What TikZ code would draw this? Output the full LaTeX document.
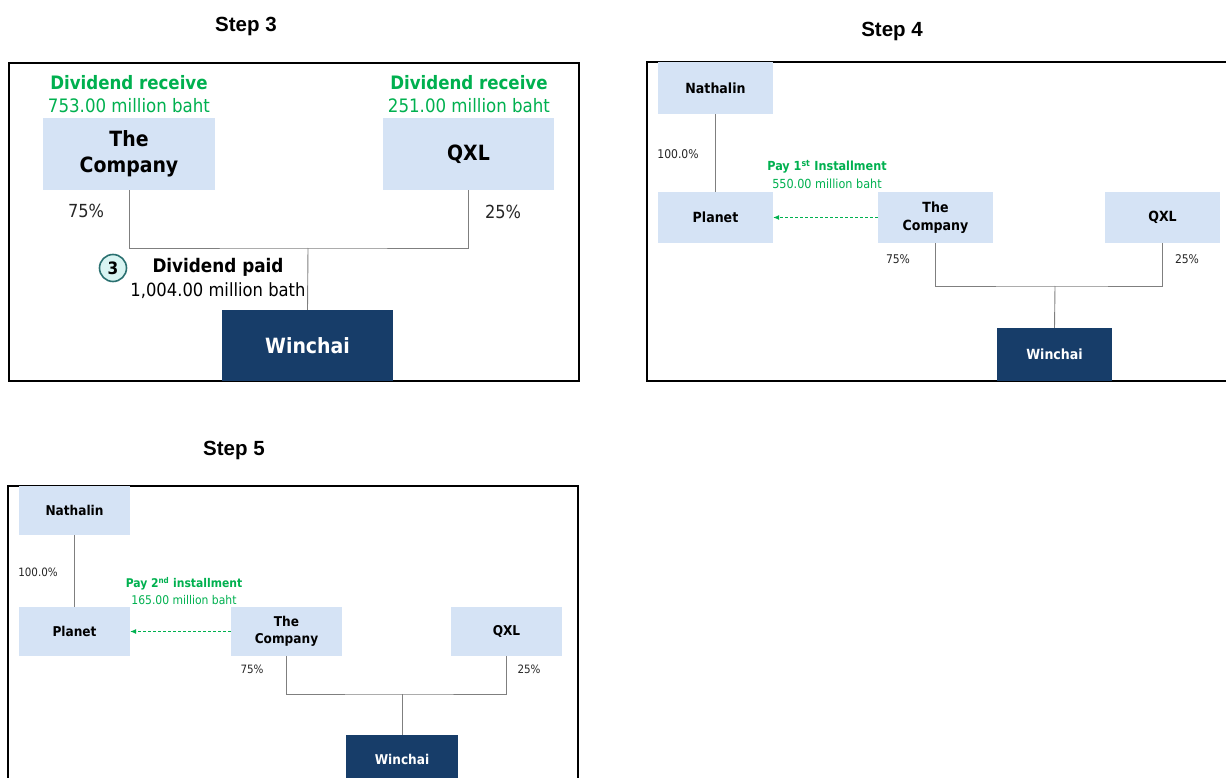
\documentclass[tikz,border=0pt]{standalone}
\usepackage{fontspec}
\setmainfont{Liberation Sans}
\newfontfamily\tah{DejaVu Sans Condensed}
\usetikzlibrary{arrows.meta}
\definecolor{boxblue}{HTML}{D5E3F5}
\definecolor{navy}{HTML}{173D69}
\definecolor{paygreen}{HTML}{00B04F}
\definecolor{linegray}{HTML}{7F7F7F}
\definecolor{circfill}{HTML}{D8F4F2}
\definecolor{circline}{HTML}{2A7070}
\tikzset{
  panel/.style={draw=black, line width=1.5pt},
  entity/.style={fill=boxblue, inner sep=0pt, align=center, font=\tah\bfseries},
  target/.style={fill=navy, text=white, inner sep=0pt, align=center, font=\tah\bfseries},
  own/.style={draw=linegray, line width=0.9pt},
  pct/.style={inner sep=0pt, text=black!85, font=\tah},
  paylabel/.style={inner sep=0pt, align=center, text=paygreen},
  payarrow/.style={draw=paygreen, dashed, dash pattern=on 3pt off 2pt, line width=0.8pt, -{Latex[length=6pt,width=5pt]}},
  steptitle/.style={inner sep=0pt, font=\bfseries\fontsize{20.5}{23}\selectfont}
}
\begin{document}
\begin{tikzpicture}[x=1pt,y=-1pt]
\useasboundingbox (0,0) rectangle (1226,778);

% ---------------- Step 3 ----------------
\node[steptitle] (t3) at (246,26) {Step 3};
\draw[panel] (9,63) rectangle (579,381);
\node[entity, minimum width=172pt, minimum height=72pt, font=\tah\bfseries\fontsize{21}{26}\selectfont] (c3) at (129,154) {The\\Company};
\node[entity, minimum width=171pt, minimum height=72pt, font=\tah\bfseries\fontsize{21}{26}\selectfont] (q3) at (468.5,154) {QXL};
\node[target, minimum width=171pt, minimum height=71pt, font=\tah\bfseries\fontsize{21}{24}\selectfont] (w3) at (307.5,345.5) {Winchai};
\node[paylabel, font=\tah\bfseries\fontsize{18.5}{21}\selectfont] (cr3) at (129,83) {Dividend receive};
\node[paylabel, font=\tah\fontsize{18.5}{21}\selectfont] (cm3) at (129,106) {753.00 million baht};
\node[paylabel, font=\tah\bfseries\fontsize{18.5}{21}\selectfont] (qr3) at (469,83) {Dividend receive};
\node[paylabel, font=\tah\fontsize{18.5}{21}\selectfont] (qm3) at (469,106) {251.00 million baht};
\node[pct, font=\tah\fontsize{18}{21}\selectfont] (p75a) at (86,211) {75\%};
\node[pct, font=\tah\fontsize{18}{21}\selectfont] (p25a) at (503,212) {25\%};
\coordinate (j3) at (308,248);
\draw[own] (c3.south) |- (j3) -| (q3.south);
\draw[own] (j3) -- (w3.north);
\node[circle, draw=circline, fill=circfill, line width=1.6pt, minimum size=27pt, inner sep=0pt, font=\tah\bfseries\fontsize{17}{19}\selectfont] (n3) at (113,268) {3};
\node[inner sep=0pt, font=\tah\bfseries\fontsize{18.7}{21}\selectfont] (dp3) at (218,267) {Dividend paid};
\node[inner sep=0pt, font=\tah\fontsize{18.2}{21}\selectfont] (dm3) at (218,291) {1,004.00 million bath};

% ---------------- Step 4 ----------------
\node[steptitle] (t4) at (892,31) {Step 4};
\draw[panel] (1226,62) -- (647,62) -- (647,381) -- (1226,381);
\node[entity, minimum width=115pt, minimum height=52pt, font=\tah\bfseries\fontsize{14}{17}\selectfont] (n4) at (715.5,88) {Nathalin};
\node[entity, minimum width=115pt, minimum height=51pt, font=\tah\bfseries\fontsize{14}{17}\selectfont] (pl4) at (715.5,217.5) {Planet};
\node[entity, minimum width=115pt, minimum height=51pt, font=\tah\bfseries\fontsize{14}{18}\selectfont] (c4) at (935.5,217.5) {The\\Company};
\node[entity, minimum width=115pt, minimum height=51pt, font=\tah\bfseries\fontsize{14}{17}\selectfont] (q4) at (1162.5,217.5) {QXL};
\node[target, minimum width=115pt, minimum height=53pt, font=\tah\bfseries\fontsize{14}{17}\selectfont] (w4) at (1054.5,354.5) {Winchai};
\draw[own] (n4.south) -- (pl4.north);
\node[pct, font=\tah\fontsize{12}{14}\selectfont] (h4) at (678,154) {100.0\%};
\draw[payarrow] (c4.west) -- (pl4.east);
\node[paylabel, font=\tah\bfseries\fontsize{12.5}{15}\selectfont] (pa4) at (827,167) {Pay 1\textsuperscript{st} Installment};
\node[paylabel, font=\tah\fontsize{12.5}{15}\selectfont] (pm4) at (827,184) {550.00 million baht};
\node[pct, font=\tah\fontsize{12}{14}\selectfont] (p75b) at (898,259) {75\%};
\node[pct, font=\tah\fontsize{12}{14}\selectfont] (p25b) at (1187,259) {25\%};
\coordinate (j4) at (1055,286);
\draw[own] (c4.south) |- (j4) -| (q4.south);
\draw[own] (j4) -- (w4.north);

% ---------------- Step 5 ----------------
\node[steptitle] (t5) at (234,450) {Step 5};
\draw[panel] (8,778) -- (8,486) -- (578,486) -- (578,778);
\node[entity, minimum width=111pt, minimum height=49pt, font=\tah\bfseries\fontsize{13.5}{16}\selectfont] (n5) at (74.5,510.5) {Nathalin};
\node[entity, minimum width=111pt, minimum height=49pt, font=\tah\bfseries\fontsize{13.5}{16}\selectfont] (pl5) at (74.5,631.5) {Planet};
\node[entity, minimum width=111pt, minimum height=49pt, font=\tah\bfseries\fontsize{13.5}{17}\selectfont] (c5) at (286.5,631.5) {The\\Company};
\node[entity, minimum width=111pt, minimum height=49pt, font=\tah\bfseries\fontsize{13.5}{16}\selectfont] (q5) at (506.5,631.5) {QXL};
\node[target, minimum width=112pt, minimum height=48pt, font=\tah\bfseries\fontsize{13.5}{16}\selectfont] (w5) at (402,759) {Winchai};
\draw[own] (n5.south) -- (pl5.north);
\node[pct, font=\tah\fontsize{11.5}{14}\selectfont] (h5) at (38,572) {100.0\%};
\draw[payarrow] (c5.west) -- (pl5.east);
\node[paylabel, font=\tah\bfseries\fontsize{12}{14}\selectfont] (pa5) at (184,584) {Pay 2\textsuperscript{nd} installment};
\node[paylabel, font=\tah\fontsize{12}{14}\selectfont] (pm5) at (184,600) {165.00 million baht};
\node[pct, font=\tah\fontsize{11.5}{14}\selectfont] (p75c) at (252,669) {75\%};
\node[pct, font=\tah\fontsize{11.5}{14}\selectfont] (p25c) at (529,669) {25\%};
\coordinate (j5) at (402,694);
\draw[own] (c5.south) |- (j5) -| (q5.south);
\draw[own] (j5) -- (w5.north);
\end{tikzpicture}
\end{document}
